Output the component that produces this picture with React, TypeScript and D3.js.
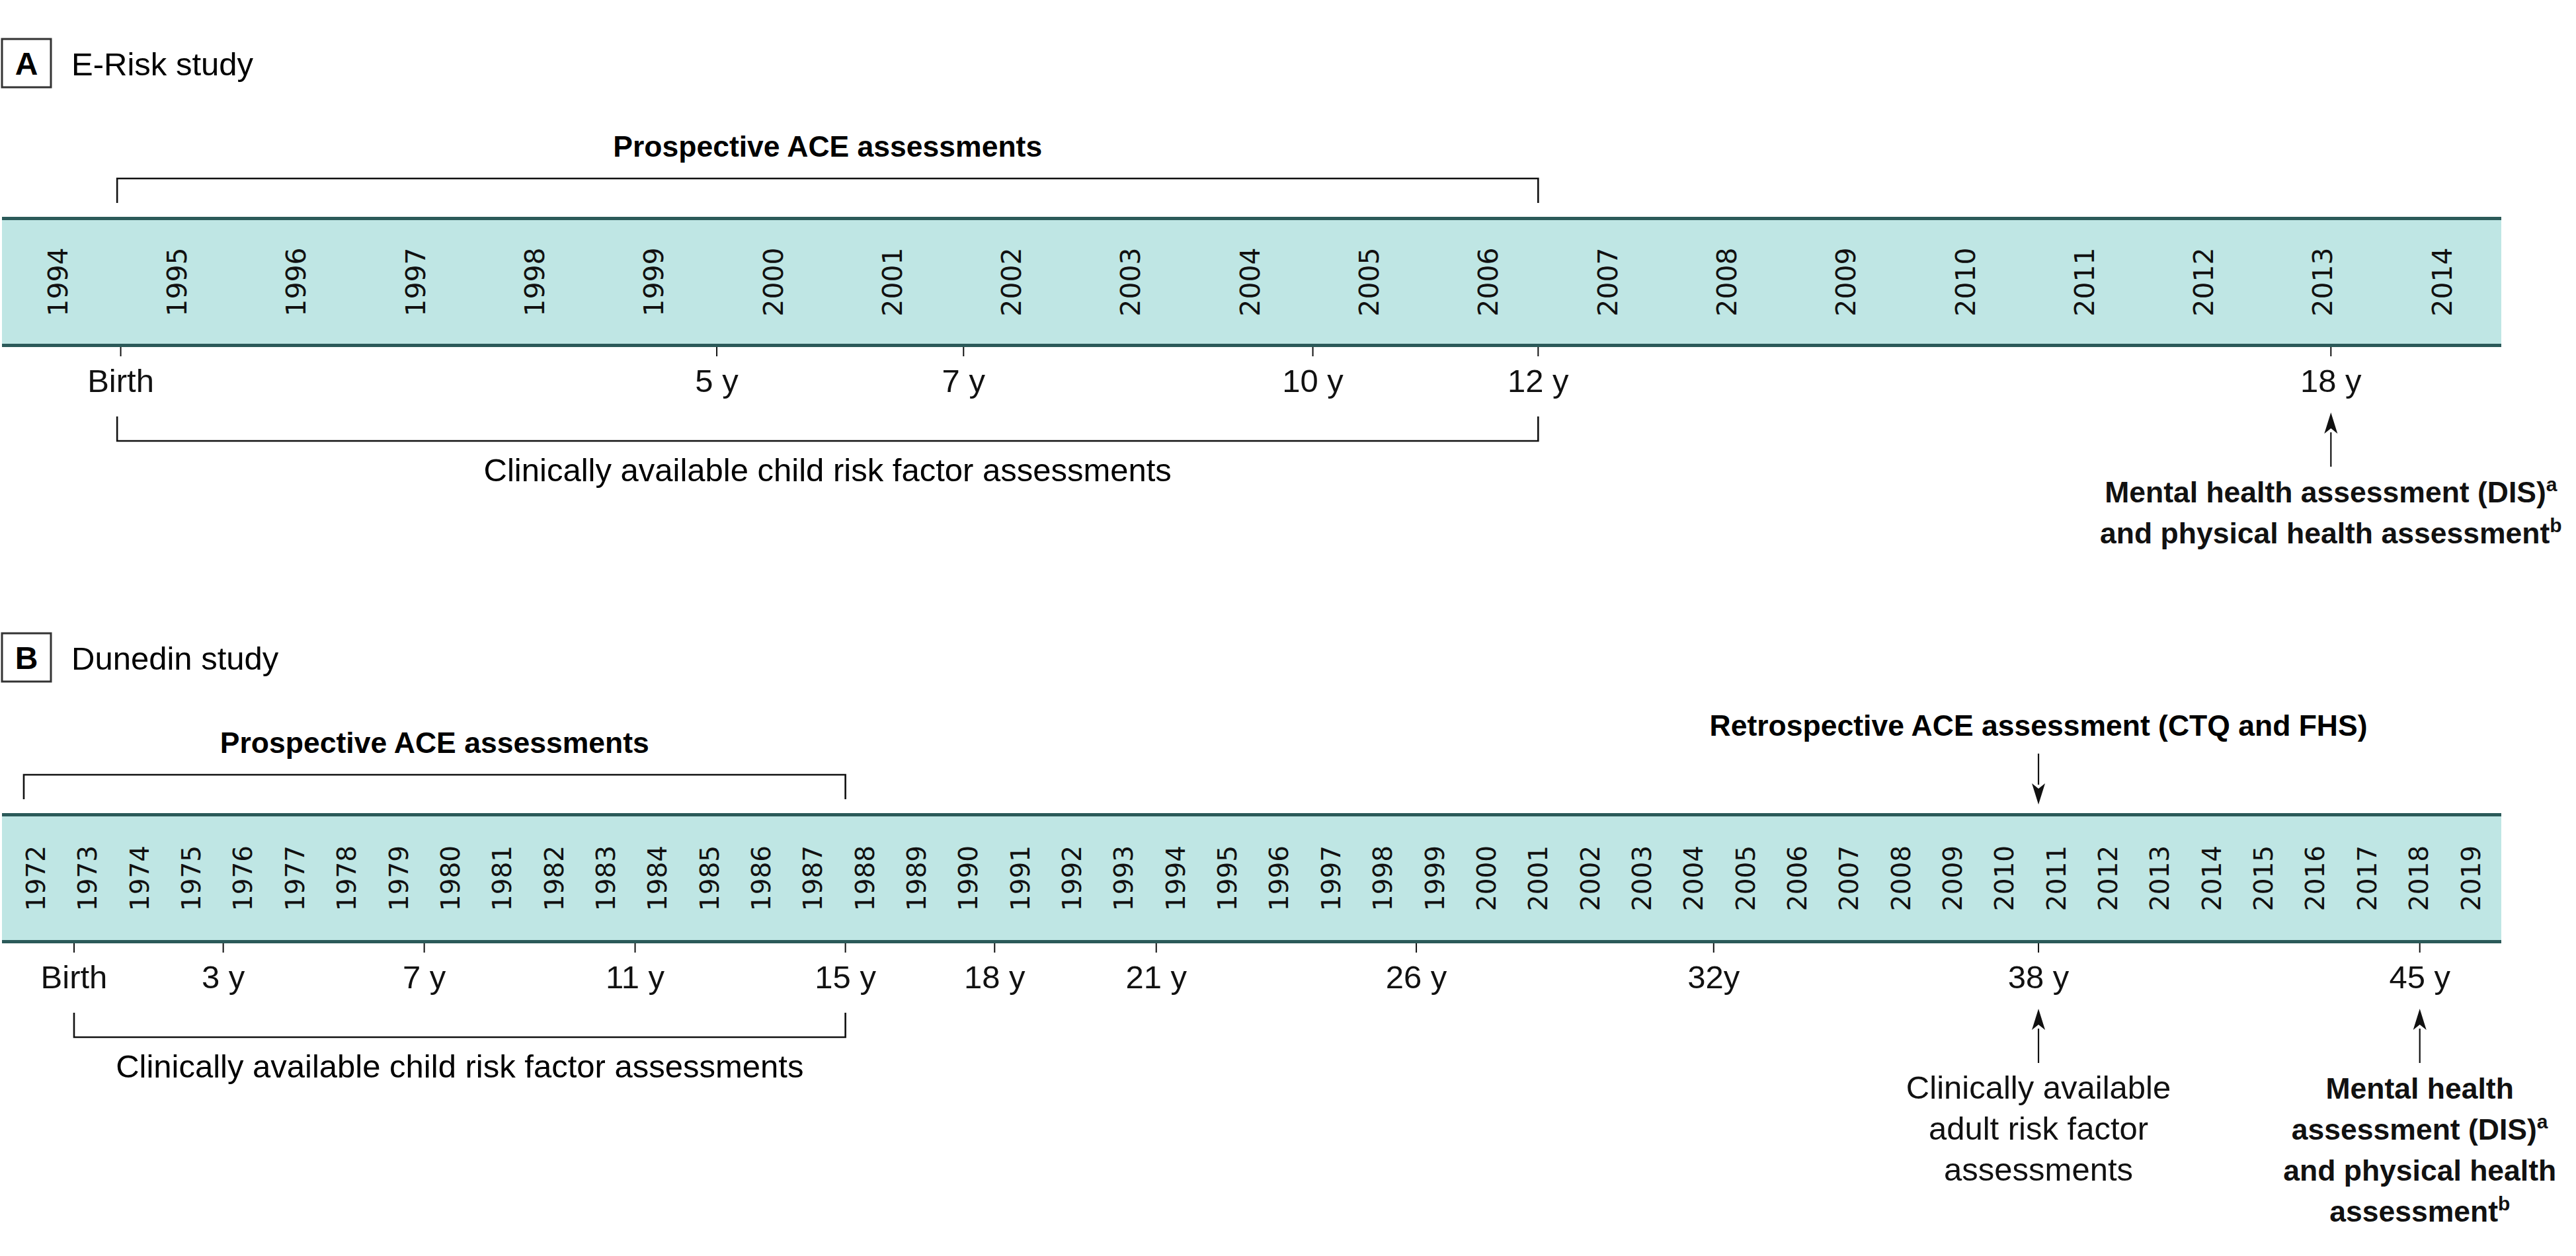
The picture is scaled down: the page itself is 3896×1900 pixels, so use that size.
import React, { useEffect } from "react";
import * as d3 from "d3";

// ---------- data ----------
const eriskYears = [1994, 1995, 1996, 1997, 1998, 1999, 2000, 2001, 2002, 2003, 2004, 2005, 2006, 2007, 2008, 2009, 2010, 2011, 2012, 2013, 2014];
const eriskAgeLabels = ["Birth", "5 y", "7 y", "10 y", "12 y", "18 y"];
const eriskAgeYears = [1994.53, 1999.53, 2001.6, 2004.53, 2006.42, 2013.07];
const eriskProspective = [1994.5, 2006.42];
const eriskClinical = [1994.5, 2006.42];
const eriskOutcomeYear = 2013.07;

const dunedinYears = [1972, 1973, 1974, 1975, 1976, 1977, 1978, 1979, 1980, 1981, 1982, 1983, 1984, 1985, 1986, 1987, 1988, 1989, 1990, 1991, 1992, 1993, 1994, 1995, 1996, 1997, 1998, 1999, 2000, 2001, 2002, 2003, 2004, 2005, 2006, 2007, 2008, 2009, 2010, 2011, 2012, 2013, 2014, 2015, 2016, 2017, 2018, 2019];
const dunedinAgeLabels = ["Birth", "3 y", "7 y", "11 y", "15 y", "18 y", "21 y", "26 y", "32y", "38 y", "45 y"];
const dunedinAgeYears = [1972.74, 1975.62, 1979.5, 1983.57, 1987.63, 1990.51, 1993.63, 1998.65, 2004.39, 2010.66, 2018.02];
const dunedinProspective = [1971.77, 1987.63];
const dunedinClinical = [1972.74, 1987.63];
const dunedinRetroYear = 2010.66;
const dunedinAdultYear = 2010.66;
const dunedinOutcomeYear = 2018.02;

const adultLines = ["Clinically available", "adult risk factor", "assessments"];
const outcomeLinesB = [
  { t: "Mental health", sup: "" },
  { t: "assessment (DIS)", sup: "a" },
  { t: "and physical health", sup: "" },
  { t: "assessment", sup: "b" },
];
const outcomeLinesA = [
  { t: "Mental health assessment (DIS)", sup: "a" },
  { t: "and physical health assessment", sup: "b" },
];

// ---------- styles ----------
const W = 3896;
const H = 1900;
const SANS = "'Liberation Sans', Arial, sans-serif";
const YEARFONT = "'DejaVu Sans', sans-serif";
const BAND_FILL = "#bfe6e4";
const BAND_LINE = "#2b5a59";
const REG = 49;
const BOLD = 44.5;

const xA = d3.scaleLinear().domain([1994, 2014]).range([87, 3693]);
const xB = d3.scaleLinear().domain([1972, 2019]).range([54, 3736.5]);

function Arrow({ x, tail, tip }: { x: number; tail: number; tip: number }) {
  const dir = tip < tail ? 1 : -1; // 1 = points up
  const headLen = 30;
  const headW = 10;
  const base = tip + dir * headLen;
  return (
    <g>
      <line x1={x} x2={x} y1={tail} y2={base} stroke="#111" strokeWidth={2.2} />
      <path
        d={`M${x},${tip} L${x - headW},${base + dir * 2} L${x},${base - dir * 6} L${x + headW},${base + dir * 2} Z`}
        fill="#111"
      />
    </g>
  );
}

function Bracket({ x1, x2, yBar, yEnd }: { x1: number; x2: number; yBar: number; yEnd: number }) {
  return (
    <path
      d={`M${x1},${yEnd} L${x1},${yBar} L${x2},${yBar} L${x2},${yEnd}`}
      fill="none"
      stroke="#111"
      strokeWidth={2.6}
    />
  );
}

function Header({ y, letter, title }: { y: number; letter: string; title: string }) {
  return (
    <g>
      <rect x={3} y={y} width={74} height={73} fill="#fff" stroke="#333" strokeWidth={3} />
      <text x={40} y={y + 54} textAnchor="middle" fontFamily={SANS} fontWeight={700} fontSize={48}>
        {letter}
      </text>
      <text x={108} y={y + 55} fontFamily={SANS} fontSize={REG}>
        {title}
      </text>
    </g>
  );
}

function Band({
  top,
  years,
  scale,
  fontSize,
}: {
  top: number;
  years: number[];
  scale: d3.ScaleLinear<number, number>;
  fontSize: number;
}) {
  const bottom = top + 197;
  const mid = (top + bottom) / 2;
  return (
    <g>
      <rect x={3} y={top} width={3780} height={bottom - top} fill={BAND_FILL} />
      <line x1={3} x2={3783} y1={top + 2.5} y2={top + 2.5} stroke={BAND_LINE} strokeWidth={5} />
      <line x1={3} x2={3783} y1={bottom - 2.5} y2={bottom - 2.5} stroke={BAND_LINE} strokeWidth={5} />
      {years.map((yr) => (
        <text
          key={yr}
          transform={`translate(${scale(yr)},${mid}) rotate(-90)`}
          textAnchor="middle"
          dy="0.36em"
          fontFamily={YEARFONT}
          fontSize={fontSize}
          fill="#111"
        >
          {yr}
        </text>
      ))}
    </g>
  );
}

function AgeTicks({
  bottom,
  labels,
  years,
  scale,
}: {
  bottom: number;
  labels: string[];
  years: number[];
  scale: d3.ScaleLinear<number, number>;
}) {
  return (
    <g>
      {years.map((yr, i) => (
        <g key={labels[i]}>
          <line x1={scale(yr)} x2={scale(yr)} y1={bottom} y2={bottom + 14} stroke="#111" strokeWidth={2} />
          <text x={scale(yr)} y={bottom + 68} textAnchor="middle" fontFamily={SANS} fontSize={REG} fill="#111">
            {labels[i]}
          </text>
        </g>
      ))}
    </g>
  );
}

function MultiLine({
  x,
  y0,
  lines,
  bold,
}: {
  x: number;
  y0: number;
  lines: { t: string; sup: string }[];
  bold: boolean;
}) {
  return (
    <g>
      {lines.map((l, i) => (
        <text
          key={i}
          x={x}
          y={y0 + i * 62}
          textAnchor="middle"
          fontFamily={SANS}
          fontWeight={bold ? 700 : 400}
          fontSize={bold ? BOLD : REG}
          fill="#111"
        >
          {l.t}
          {l.sup ? (
            <tspan fontSize={30} dy={-17}>
              {l.sup}
            </tspan>
          ) : null}
        </text>
      ))}
    </g>
  );
}

export default function App() {
  useEffect(() => {
    document.body.style.margin = "0";
  }, []);

  const offB = 902;
  const topA = 328;
  const topB = topA + offB;

  return (
    <svg
      width={W}
      height={H}
      viewBox={`0 0 ${W} ${H}`}
      style={{ display: "block", position: "absolute", left: 0, top: 0, background: "#fff" }}
    >
      <rect x={0} y={0} width={W} height={H} fill="#fff" />

      {/* Panel A */}
      <Header y={59} letter="A" title="E-Risk study" />
      <text
        x={(xA(eriskProspective[0]) + xA(eriskProspective[1])) / 2}
        y={237}
        textAnchor="middle"
        fontFamily={SANS}
        fontWeight={700}
        fontSize={BOLD}
      >
        Prospective ACE assessments
      </text>
      <Bracket x1={xA(eriskProspective[0])} x2={xA(eriskProspective[1])} yBar={270} yEnd={307} />
      <Band top={topA} years={eriskYears} scale={xA} fontSize={41} />
      <AgeTicks bottom={topA + 197} labels={eriskAgeLabels} years={eriskAgeYears} scale={xA} />
      <Bracket x1={xA(eriskClinical[0])} x2={xA(eriskClinical[1])} yBar={667} yEnd={630} />
      <text
        x={(xA(eriskClinical[0]) + xA(eriskClinical[1])) / 2}
        y={728}
        textAnchor="middle"
        fontFamily={SANS}
        fontSize={REG}
      >
        Clinically available child risk factor assessments
      </text>
      <Arrow x={xA(eriskOutcomeYear)} tail={706} tip={624} />
      <MultiLine x={xA(eriskOutcomeYear)} y0={760} lines={outcomeLinesA} bold={true} />

      {/* Panel B */}
      <Header y={59 + offB - 3} letter="B" title="Dunedin study" />
      <text
        x={(xB(dunedinProspective[0]) + xB(dunedinProspective[1])) / 2}
        y={237 + offB}
        textAnchor="middle"
        fontFamily={SANS}
        fontWeight={700}
        fontSize={BOLD}
      >
        Prospective ACE assessments
      </text>
      <Bracket x1={xB(dunedinProspective[0])} x2={xB(dunedinProspective[1])} yBar={270 + offB} yEnd={307 + offB} />
      <text x={xB(dunedinRetroYear)} y={1113} textAnchor="middle" fontFamily={SANS} fontWeight={700} fontSize={BOLD}>
        Retrospective ACE assessment (CTQ and FHS)
      </text>
      <Arrow x={xB(dunedinRetroYear)} tail={1140} tip={1217} />
      <Band top={topB} years={dunedinYears} scale={xB} fontSize={39} />
      <AgeTicks bottom={topB + 197} labels={dunedinAgeLabels} years={dunedinAgeYears} scale={xB} />
      <Bracket x1={xB(dunedinClinical[0])} x2={xB(dunedinClinical[1])} yBar={667 + offB} yEnd={630 + offB} />
      <text
        x={(xB(dunedinClinical[0]) + xB(dunedinClinical[1])) / 2}
        y={728 + offB}
        textAnchor="middle"
        fontFamily={SANS}
        fontSize={REG}
      >
        Clinically available child risk factor assessments
      </text>
      <Arrow x={xB(dunedinAdultYear)} tail={706 + offB} tip={624 + offB} />
      <MultiLine
        x={xB(dunedinAdultYear)}
        y0={760 + offB}
        lines={adultLines.map((t) => ({ t, sup: "" }))}
        bold={false}
      />
      <Arrow x={xB(dunedinOutcomeYear)} tail={706 + offB} tip={624 + offB} />
      <MultiLine x={xB(dunedinOutcomeYear)} y0={760 + offB} lines={outcomeLinesB} bold={true} />
    </svg>
  );
}
